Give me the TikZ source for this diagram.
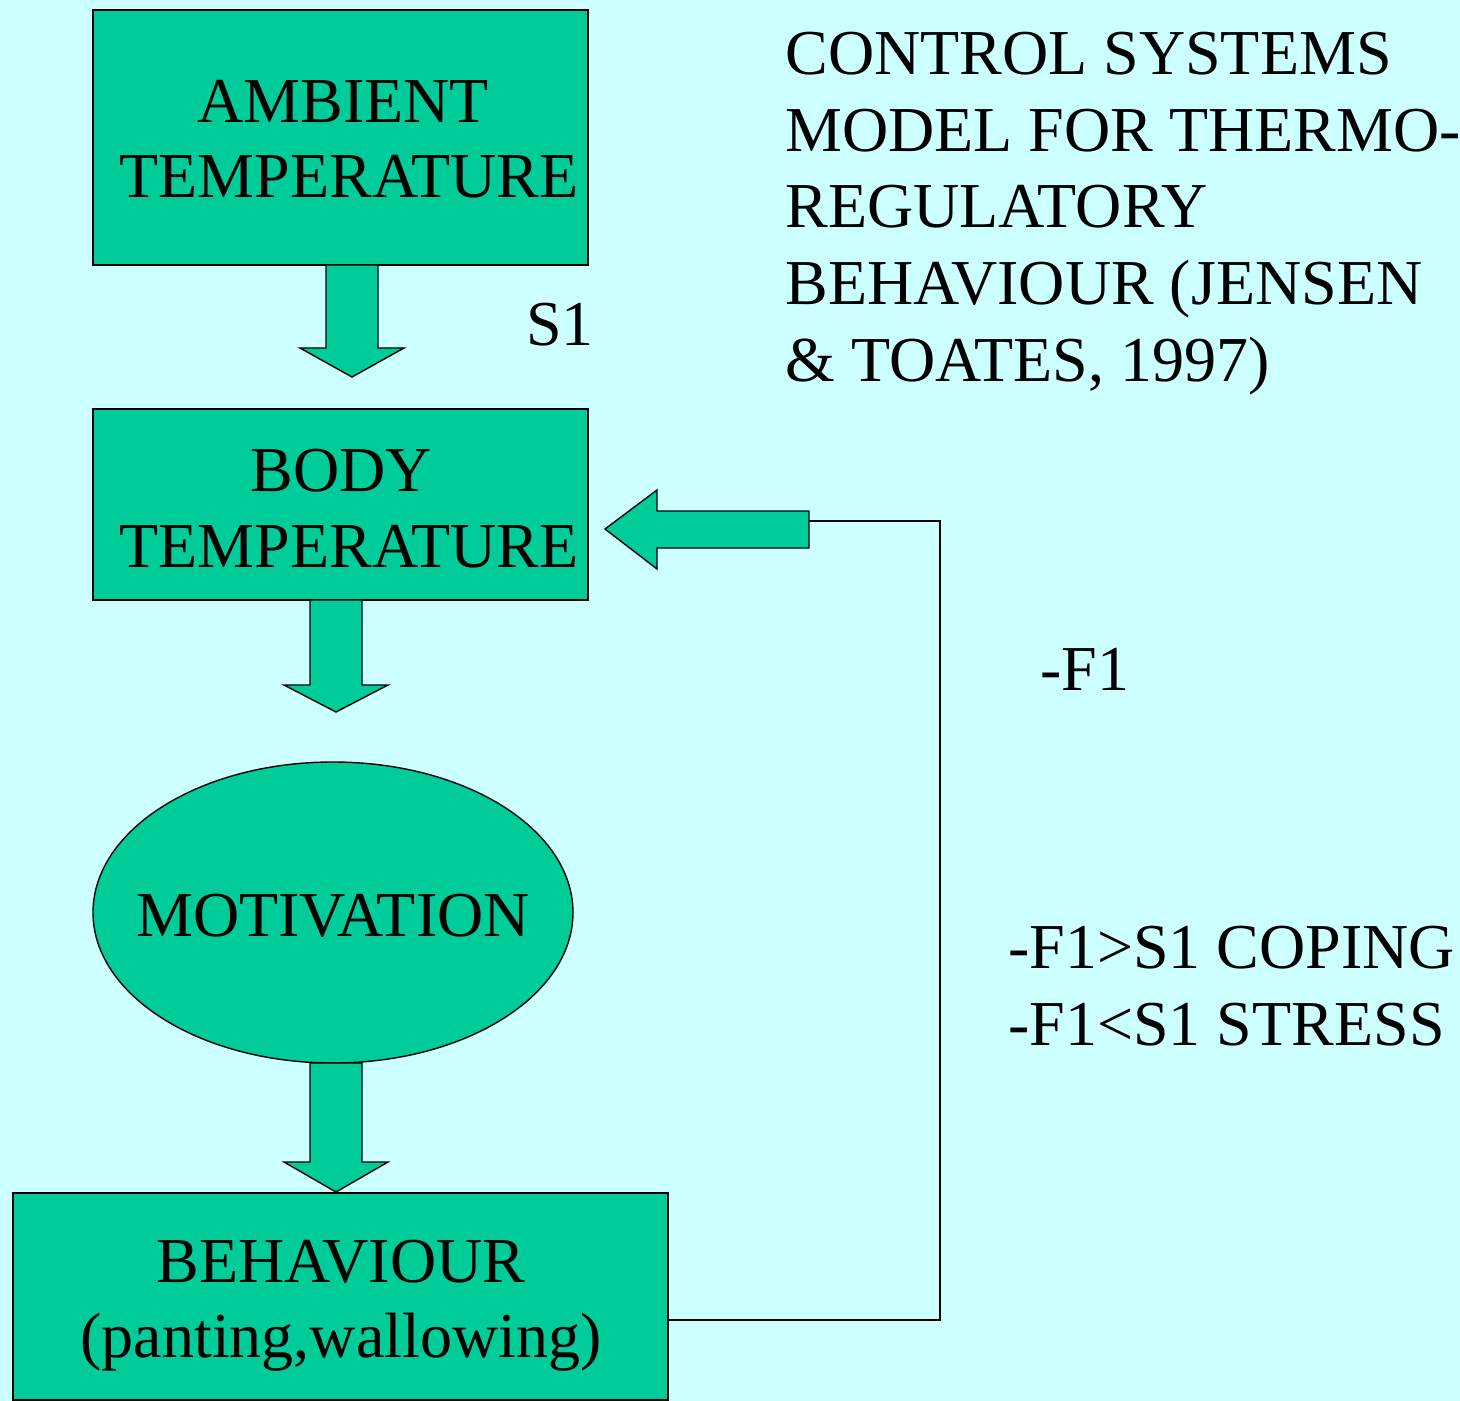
\documentclass[tikz,border=0pt]{standalone}
\usepackage{fontspec}
\setmainfont{Liberation Serif}
\usetikzlibrary{shapes.geometric}
\definecolor{bgc}{HTML}{CCFFFF}
\definecolor{boxc}{HTML}{00CC99}
\begin{document}
\begin{tikzpicture}[x=0.5pt,y=-0.5pt,
  font=\fontsize{32}{38.5}\selectfont,
  box/.style={draw=black, fill=boxc, line width=0.7pt, inner sep=0pt},
  blk/.style={draw=black, fill=boxc, line width=0.7pt, line join=miter},
  txt/.style={anchor=base west, inner sep=0pt},
  ctxt/.style={anchor=base, inner sep=0pt},
  fb/.style={draw=black, line width=0.7pt}]
\fill[bgc] (0,0) rectangle (1460,1401);
\useasboundingbox (0,0) rectangle (1460,1401);

% boxes
\node[box, minimum width=247.5pt, minimum height=127.5pt] (amb) at (340.5,137.5) {};
\node[box, minimum width=247.5pt, minimum height=95.5pt] (body) at (340.5,504.5) {};
\node[box, ellipse, minimum width=240pt, minimum height=150.5pt] (mot) at (333,912.5) {};
\node[box, minimum width=327.5pt, minimum height=103.5pt] (beh) at (340.5,1296.5) {};

% box texts
\node[ctxt] (amb1) at (343,123) {AMBIENT};
\node[ctxt] (amb2) at (349,198) {TEMPERATURE};
\node[ctxt] (body1) at (341,491) {BODY};
\node[ctxt] (body2) at (349,567) {TEMPERATURE};
\node[ctxt] (mot1) at (333,936) {MOTIVATION};
\node[ctxt] (beh1) at (341,1282) {BEHAVIOUR};
\node[ctxt] (beh2) at (341,1357) {(panting,wallowing)};

% block arrows down
\draw[blk] (326,265) -- (326,348) -- (300,348) -- (352,377) -- (404,348) -- (378,348) -- (378,265) -- cycle;
\draw[blk] (310,600) -- (310,685) -- (284,685) -- (336,712) -- (388,685) -- (362,685) -- (362,600) -- cycle;
\draw[blk] (310,1063) -- (310,1162) -- (284,1162) -- (336,1192) -- (388,1162) -- (362,1162) -- (362,1063) -- cycle;

% feedback block arrow
\coordinate (fbtail) at (809,521);
\draw[blk] (605,529) -- (657,490) -- (657,511) -- (809,511) -- (809,548) -- (657,548) -- (657,569) -- cycle;
\coordinate (behout) at (668,1320);
\coordinate (corner1) at (940,1320);
\coordinate (corner2) at (940,521);
\draw[fb] (behout) -- (corner1) -- (corner2) -- (fbtail);

% labels
\node[txt] (s1) at (526,345) {S1};
\node[txt] (f1) at (1040,690) {-F1};
\node[txt] (cop) at (1008,968) {-F1>S1 COPING};
\node[txt] (str) at (1008,1045) {-F1<S1 STRESS};

\node[txt] (t1) at (785,75) {CONTROL SYSTEMS};
\node[txt] (t2) at (785,152) {MODEL FOR THERMO-};
\node[txt] (t3) at (785,228) {REGULATORY};
\node[txt] (t4) at (785,305) {BEHAVIOUR (JENSEN};
\node[txt] (t5) at (785,381) {\& TOATES, 1997)};
\end{tikzpicture}
\end{document}
